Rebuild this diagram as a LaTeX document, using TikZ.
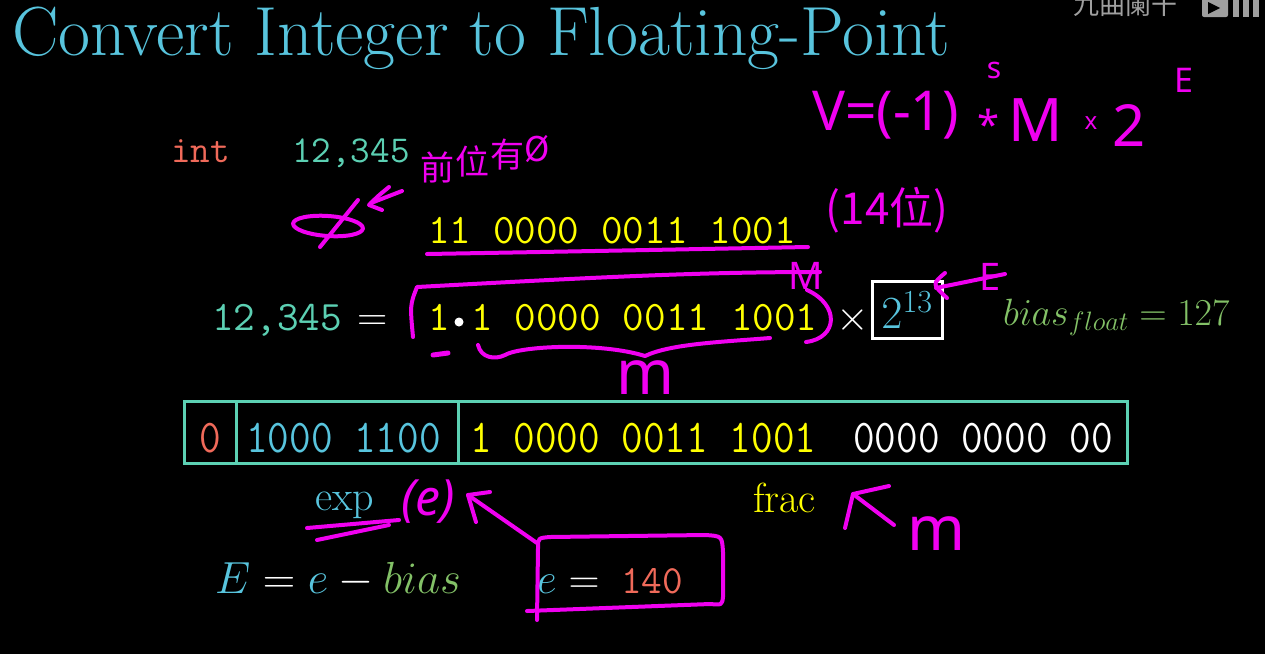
\RequirePackage{fix-cm}
\documentclass[tikz,border=0pt]{standalone}
\usepackage{fontspec}
\newfontfamily\cjk{Noto Sans CJK SC}
\newfontfamily\hand{Noto Sans}
\usepackage{graphicx}
\usetikzlibrary{positioning}

\definecolor{mblue}{HTML}{58C4DD}
\definecolor{mred}{HTML}{F06A5A}
\definecolor{mteal}{HTML}{5CD0B3}
\definecolor{mgreen}{HTML}{83C167}
\definecolor{myellow}{HTML}{FFFF00}
\definecolor{ink}{HTML}{F000F0}

\newcommand{\fs}[1]{\fontsize{#1}{#1}\selectfont}
\newcommand{\tallnum}[1]{\scalebox{1}[1.12]{#1}}

\begin{document}
\begin{tikzpicture}[x=1pt, y=-1pt,
  txt/.style={inner sep=0pt, anchor=base west},
  tt/.style={txt, font=\fs{42}\ttfamily},
  cell/.style={draw=mteal, line width=3pt, minimum height=62pt, inner sep=0pt},
  powbox/.style={draw=white, line width=3pt, minimum width=70pt, minimum height=57pt, inner sep=0pt},
  hw/.style={ink, inner sep=0pt},
  stroke/.style={ink, line width=4pt, line cap=round, line join=round}
]
\useasboundingbox (0,0) rectangle (1265,654);
\fill[black] (0,0) rectangle (1265,654);

% --- title and watermark ---
\node[txt, mblue, font=\fs{69.5}] (title) at (12,55) {Convert Integer to Floating-Point};
\node[txt, gray!75, font=\cjk\fs{26}] (wm) at (1073,14) {九曲阑干};
\fill[gray!75, rounded corners=2pt] (1202,-5) rectangle (1228,17);
\fill[black] (1208,2) -- (1220,8) -- (1208,14) -- cycle;
\foreach \bx in {1233,1243,1253}
  \fill[gray!75] (\bx,-2) rectangle (\bx+6,17);

% --- integer and its bits ---
\node[txt, mred, font=\fs{38}\ttfamily] (int) at (171,162) {int};
\node[txt, mteal, font=\fs{38}\ttfamily] (ival) at (292,162) {12,345};
\node[tt, myellow] (bin) at (428,243) {11 0000 0011 1001};

% --- normalised form ---
\node[tt, mteal] (lhs) at (212,330) {12,345};
\node[txt, white, font=\fs{42}] (eq) at (357,330) {$=$};
\node[tt, myellow] (mant) at (428,330) {1\phantom{.}1 0000 0011 1001};
\fill[white] (459,322) circle (4.5);
\node[txt, white, font=\fs{42}] (times) at (836,330) {$\times$};
\node[powbox, text=mblue, font=\fs{46}] (pow) at (907,310) {$2^{13}$};
\node[txt, mgreen, font=\fs{38}] (bias) at (1003,325) {$bias_{float}=127$};

% --- register ---
\node[cell, minimum width=52pt] (scell) at (210,432) {};
\node[cell, minimum width=222pt] (ecell) at (347,432) {};
\node[cell, minimum width=669pt] (fcell) at (792.5,432) {};
\node[tt, mred] (sbit) at (199,452) {\tallnum{0}};
\node[tt, mblue] (ebits) at (246,452) {\tallnum{1000 1100}};
\node[tt, myellow] (fbits) at (470,452) {\tallnum{1 0000 0011 1001}};
\node[tt, white] (zbits) at (853,452) {\tallnum{0000 0000 00}};

\node[txt, mblue, font=\fs{42}] (explbl) at (315,510) {exp};
\node[txt, myellow, font=\fs{42}] (fraclbl) at (753,512) {frac};

\node[txt, font=\fs{45}] (Eeq) at (215,593)
  {$\color{mblue}E\color{white}=\color{mblue}e\color{white}-\color{mgreen}bias$};
\node[txt, font=\fs{43}] (eval) at (537,593) {$\color{mblue}e\color{white}=$};
\node[txt, mred, font=\fs{40}\ttfamily] (eint) at (621,593) {140};

% --- handwritten notes ---
\node[hw, font=\hand\fs{55}, anchor=west] (hV) at (812,115) {V=(-1)};
\node[hw, font=\hand\fs{30}] (hs) at (994,70) {s};
\node[hw, font=\hand\fs{40}] (hstar) at (989,124) {*};
\node[hw, font=\hand\fs{60}] (hM1) at (1036,120) {M};
\node[hw, font=\hand\fs{24}] (hx) at (1091,123) {x};
\node[hw, font=\hand\fs{58}] (htwo) at (1129,125) {2};
\node[hw, font=\hand\fs{34}] (hE1) at (1184,80) {E};

\node[hw, font=\cjk\fs{34}] (hq1) at (437,167) {前};
\node[hw, font=\cjk\fs{34}] (hq2) at (472,161) {位};
\node[hw, font=\cjk\fs{34}] (hq3) at (507,155) {有};
\node[hw, font=\cjk\fs{34}] (hq4) at (537,149) {Ø};
\node[hw, font=\cjk\fs{44}] (hbits) at (887,210) {(14位)};
\draw[stroke, rotate around={-4:(328,226)}] (328,226) ellipse [x radius=35, y radius=10];
\draw[stroke] (358,200) -- (320,247);
\draw[stroke] (389,187) .. controls (378,196) .. (369,205) -- (382,210);
\draw[stroke] (371,203) -- (402,191);
\draw[stroke] (427,254) .. controls (600,251) and (700,249) .. (808,247);

\draw[stroke] (413,337) .. controls (410,305) .. (417,287) .. controls (600,277) and (700,272) .. (820,272);
\draw[stroke] (807,290) .. controls (840,305) and (838,338) .. (806,342);
\node[hw, font=\hand\fs{38}] (hM2) at (806,276) {M};
\draw[stroke, line width=5pt] (433,355) -- (448,353);
\draw[stroke] (478,345) .. controls (481,358) and (495,360) .. (505,355)
  .. controls (520,346) and (600,342) .. (645,356)
  .. controls (670,344) and (720,342) .. (770,338);
\node[hw, font=\hand\fs{62}] (hm1) at (645,378) {m};

\draw[stroke] (945,273) .. controls (932,284) .. (947,298);
\draw[stroke] (936,288) -- (1005,274);
\node[hw, font=\hand\fs{38}] (hE2) at (990,277) {E};

\draw[stroke] (307,528) -- (399,520);
\draw[stroke] (317,540) -- (389,525);
\node[hw, font=\hand\itshape\fs{50}] (he) at (428,502) {(e)};
\draw[stroke] (537,543) -- (468,495);
\draw[stroke] (490,492) -- (468,495) -- (476,522);
\draw[stroke] (537,620) -- (538,548) .. controls (538,538) .. (550,537) -- (705,535)
  .. controls (722,536) .. (723,552) -- (723,597) .. controls (722,605) .. (710,604) -- (527,611);

\draw[stroke] (845,528) -- (853,494) -- (889,486);
\draw[stroke] (853,494) -- (894,525);
\node[hw, font=\hand\fs{62}] (hm2) at (936,534) {m};
\end{tikzpicture}
\end{document}
